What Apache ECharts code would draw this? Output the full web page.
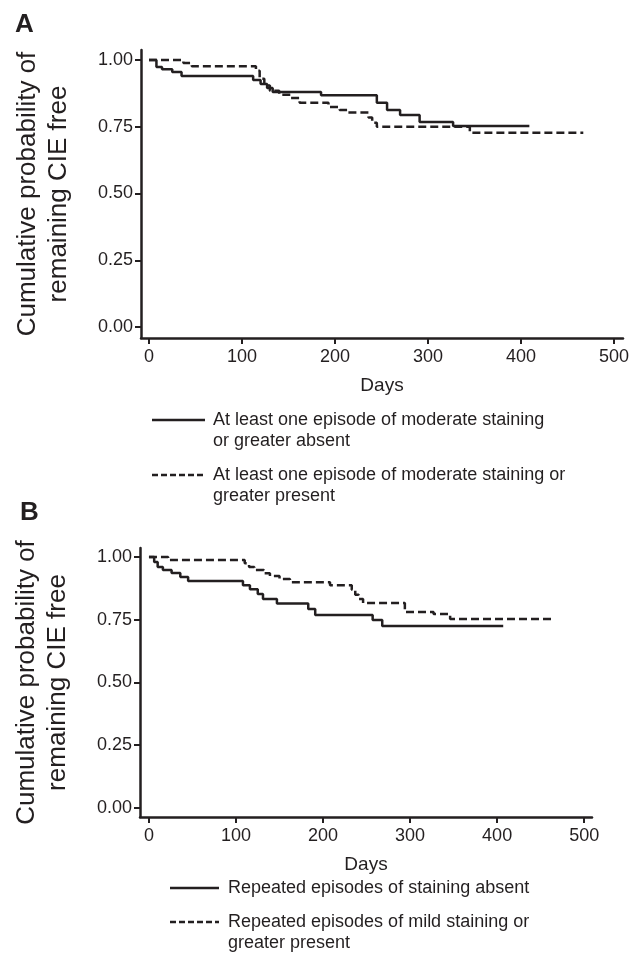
<!DOCTYPE html>
<html>
<head>
<meta charset="utf-8">
<script src="https://cdn.jsdelivr.net/npm/echarts@6/dist/echarts.min.js"></script>
<style>
  html, body { margin: 0; padding: 0; background: #fff; }
  #main { width: 635px; height: 958px; }
</style>
</head>
<body>
<div id="main"></div>
<script>
// tick labels
var dayTicks = [0, 100, 200, 300, 400, 500];
var probTicks = [0, 0.25, 0.5, 0.75, 1];

// panel A: [days, survival]
var namesA = [
    'At least one episode of moderate staining\nor greater absent',
    'At least one episode of moderate staining or\ngreater present'
];
var absentA = [[0, 1], [8, 0.974], [14, 0.965], [25, 0.955], [35, 0.94], [112, 0.925], [120, 0.91],
    [127, 0.895], [133, 0.88], [185, 0.868], [245, 0.84], [256, 0.813], [270, 0.794], [291, 0.768],
    [327, 0.753], [409, 0.753]];
var presentA = [[0, 1], [37, 0.989], [46, 0.977], [115, 0.96], [119, 0.93], [124, 0.905], [130, 0.885],
    [140, 0.87], [152, 0.858], [162, 0.84], [193, 0.824], [205, 0.813], [213, 0.803], [236, 0.785],
    [240, 0.765], [245, 0.75], [345, 0.728], [467, 0.728]];

// panel B
var namesB = [
    'Repeated episodes of staining absent',
    'Repeated episodes of mild staining or\ngreater present'
];
var absentB = [[0, 1], [6, 0.98], [10, 0.96], [16, 0.948], [26, 0.936], [36, 0.92], [45, 0.904],
    [108, 0.888], [116, 0.872], [125, 0.853], [131, 0.833], [147, 0.815], [183, 0.793], [191, 0.769],
    [257, 0.749], [268, 0.725], [407, 0.725]];
var presentB = [[0, 1], [22, 0.988], [110, 0.975], [115, 0.96], [121, 0.948], [132, 0.935], [139, 0.924],
    [150, 0.912], [162, 0.9], [208, 0.888], [233, 0.87], [237, 0.85], [241, 0.833], [246, 0.817],
    [294, 0.781], [327, 0.773], [346, 0.753], [462, 0.753]];

var ink = '#231f20';
var font = 'Liberation Sans, Arial, sans-serif';
var dash = [8, 4];

function xAxisFor(idx, min, max) {
    return {
        gridIndex: idx, type: 'value', min: min, max: max,
        name: 'Days', nameLocation: 'middle', nameGap: 38,
        nameTextStyle: { fontSize: 19, color: ink, fontFamily: font },
        axisLine: { show: true, onZero: false, lineStyle: { color: ink, width: 2.5 } },
        axisTick: { show: true, customValues: dayTicks, length: 6, lineStyle: { color: ink, width: 2 } },
        axisLabel: { customValues: dayTicks, fontSize: 18, color: ink, fontFamily: font, margin: 10 },
        splitLine: { show: false }
    };
}

function yAxisFor(idx, min, max) {
    return {
        gridIndex: idx, type: 'value', min: min, max: max,
        name: 'Cumulative probability of\nremaining CIE free',
        nameLocation: 'middle', nameRotate: 90, nameGap: 67,
        nameTextStyle: { fontSize: 26, lineHeight: 31, color: ink, fontFamily: font },
        axisLine: { show: true, onZero: false, lineStyle: { color: ink, width: 2.5 } },
        axisTick: { show: true, customValues: probTicks, length: 6, lineStyle: { color: ink, width: 2 } },
        axisLabel: {
            customValues: probTicks, fontSize: 18, color: ink, fontFamily: font, margin: 8,
            formatter: function (v) { return v.toFixed(2); }
        },
        splitLine: { show: false }
    };
}

function km(name, data, idx, dashed) {
    return {
        name: name, type: 'line', step: 'end', data: data,
        xAxisIndex: idx, yAxisIndex: idx,
        showSymbol: false, symbol: 'none', animation: false,
        lineStyle: { color: ink, width: 2.5, type: dashed ? dash : 'solid' }
    };
}

// hand-placed legend: line sample + (possibly two line) label
function legendItem(name, dashed, x0, x1, y, tx) {
    return [{
        type: 'line', shape: { x1: x0, y1: y, x2: x1, y2: y },
        style: { stroke: ink, lineWidth: 2.5, lineDash: dashed ? [6, 3] : null }
    }, {
        type: 'text', x: tx, y: y - 10,
        style: { text: name, fontSize: 18, lineHeight: 21, fill: ink, fontFamily: font }
    }];
}

var chart = echarts.init(document.getElementById('main'));

var option = {
    backgroundColor: '#fff',
    animation: false,
    grid: [
        { left: 141, top: 50, width: 482, height: 288, outerBoundsMode: 'none' },
        { left: 140, top: 548, width: 452, height: 269, outerBoundsMode: 'none' }
    ],
    xAxis: [xAxisFor(0, -8.6, 509.7), xAxisFor(1, -10.3, 509)],
    yAxis: [yAxisFor(0, -0.0412, 1.0375), yAxisFor(1, -0.036, 1.036)],
    series: [
        km(namesA[0], absentA, 0, false),
        km(namesA[1], presentA, 0, true),
        km(namesB[0], absentB, 1, false),
        km(namesB[1], presentB, 1, true)
    ],
    graphic: [
        { type: 'text', left: 15, top: 12, style: { text: 'A', fontSize: 26, fontWeight: 'bold', fill: ink, fontFamily: font } },
        { type: 'text', left: 20, top: 500, style: { text: 'B', fontSize: 26, fontWeight: 'bold', fill: ink, fontFamily: font } }
    ]
        .concat(legendItem(namesA[0], false, 152, 205, 420, 213))
        .concat(legendItem(namesA[1], true, 152, 205, 475, 213))
        .concat(legendItem(namesB[0], false, 170, 219, 888, 228))
        .concat(legendItem(namesB[1], true, 170, 219, 922, 228))
};

chart.setOption(option);
</script>
</body>
</html>
